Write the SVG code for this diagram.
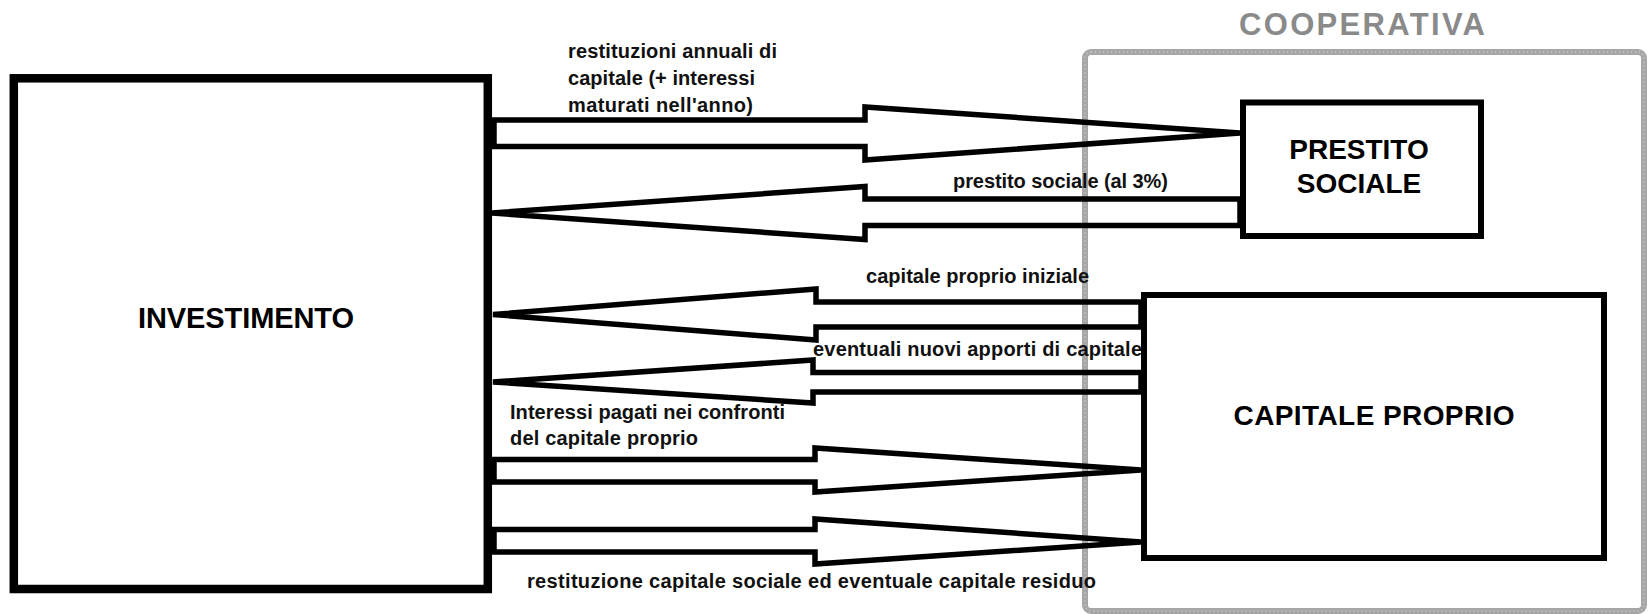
<svg xmlns="http://www.w3.org/2000/svg" width="1648" height="614" viewBox="0 0 1648 614">
<style>
.box{fill:#fff;stroke:#000;}
.arrow{fill:none;stroke:#000;stroke-width:5.5;stroke-linejoin:miter;}
.title{font-family:"Liberation Sans",Arial,sans-serif;font-weight:bold;fill:#000;text-anchor:middle;}
.lbl{font-family:"Liberation Sans",Arial,sans-serif;font-weight:bold;font-size:20px;fill:#111;}
</style>
<rect width="1648" height="614" fill="#fff"/>
<g id="cooperativa">
<rect x="1085" y="52" width="559" height="559" rx="6" fill="none" stroke="#a6a6a6" stroke-width="6"/>
<rect x="1085" y="52" width="559" height="559" rx="6" fill="none" stroke="#c4c4c4" stroke-width="2" stroke-dasharray="1 3"/>
<text class="title" x="1362" y="35" font-size="31" style="fill:#8a8a8a" textLength="246">COOPERATIVA</text>
</g>
<g id="connectors">
<polygon class="arrow" points="494,120 865,120 865,107 1240,133 865,160 865,146.5 494,146.5"/>
<polygon class="arrow" points="492,213 865,186.5 865,199 1240,199 1240,225.5 865,225.5 865,239.5"/>
<polygon class="arrow" points="493,314.5 816,289 816,302 1141,302 1141,327 816,327 816,340"/>
<polygon class="arrow" points="493,382 813,360 813,372.5 1141,372.5 1141,392 813,392 813,403"/>
<polygon class="arrow" points="494,459.5 815,459.5 815,448 1141,470 815,492 815,482 494,482"/>
<polygon class="arrow" points="494,529.5 815,529.5 815,519 1141,542 815,564 815,552 494,552"/>
</g>
<g id="investimento">
<rect class="box" x="13.8" y="78.3" width="474" height="510.7" stroke-width="8.5"/>
<text class="title" x="246" y="328" font-size="29" textLength="216">INVESTIMENTO</text>
</g>
<g id="prestito-sociale">
<rect class="box" x="1243" y="102.5" width="238" height="133.5" stroke-width="6"/>
<text class="title" x="1359" y="159" font-size="28">PRESTITO</text>
<text class="title" x="1359" y="193" font-size="28">SOCIALE</text>
</g>
<g id="capitale-proprio">
<rect class="box" x="1144" y="295" width="460" height="263" stroke-width="6"/>
<text class="title" x="1374" y="425" font-size="28" textLength="281">CAPITALE PROPRIO</text>
</g>
<g id="labels">
<text class="lbl" x="568" y="58" textLength="209">restituzioni annuali di</text>
<text class="lbl" x="568" y="85" textLength="187">capitale (+ interessi</text>
<text class="lbl" x="568" y="112" textLength="185">maturati nell'anno)</text>
<text class="lbl" x="953" y="188" textLength="215">prestito sociale (al 3%)</text>
<text class="lbl" x="866" y="283" textLength="223">capitale proprio iniziale</text>
<text class="lbl" x="813" y="356" textLength="329">eventuali nuovi apporti di capitale</text>
<text class="lbl" x="510" y="419" textLength="275">Interessi pagati nei confronti</text>
<text class="lbl" x="510" y="445" textLength="188">del capitale proprio</text>
<text class="lbl" x="527" y="588" textLength="569">restituzione capitale sociale ed eventuale capitale residuo</text>
</g>
</svg>
